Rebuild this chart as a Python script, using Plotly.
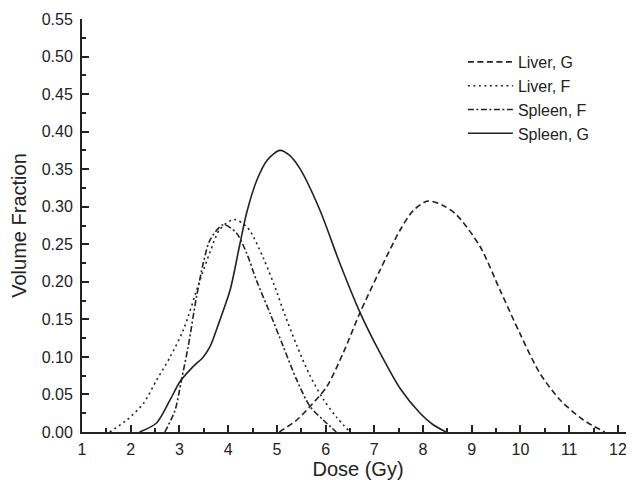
import plotly.graph_objects as go

# Data
liver_g_x = [5.05, 5.41, 5.68, 6.02, 6.36, 6.70, 7.12, 7.53, 7.80, 8.10, 8.40, 8.69, 9.17, 9.58, 9.99, 10.40, 10.81, 11.29, 11.73]
liver_g_y = [0.0, 0.016, 0.034, 0.060, 0.105, 0.158, 0.216, 0.269, 0.295, 0.3076, 0.302, 0.289, 0.247, 0.189, 0.131, 0.078, 0.043, 0.016, 0.0]

liver_f_x = [1.57, 1.92, 2.26, 2.53, 2.81, 3.08, 3.42, 3.63, 3.83, 4.12, 4.40, 4.72, 5.00, 5.13, 5.41, 5.68, 5.95, 6.22, 6.50]
liver_f_y = [0.0, 0.016, 0.038, 0.069, 0.100, 0.136, 0.202, 0.240, 0.270, 0.283, 0.272, 0.232, 0.186, 0.162, 0.115, 0.075, 0.044, 0.020, 0.0]

spleen_f_x = [2.70, 2.91, 3.04, 3.18, 3.35, 3.49, 3.63, 3.90, 4.17, 4.38, 4.58, 4.86, 5.13, 5.41, 5.68, 5.95, 6.22]
spleen_f_y = [0.0, 0.029, 0.069, 0.114, 0.180, 0.225, 0.256, 0.276, 0.265, 0.238, 0.202, 0.158, 0.114, 0.069, 0.034, 0.016, 0.0]

spleen_g_x = [2.18, 2.53, 2.81, 3.01, 3.28, 3.49, 3.63, 3.83, 4.04, 4.24, 4.38, 4.58, 4.80, 5.06, 5.25, 5.47, 5.88, 6.29, 6.70, 7.12, 7.53, 7.94, 8.20, 8.47]
spleen_g_y = [0.0, 0.012, 0.043, 0.067, 0.087, 0.100, 0.114, 0.149, 0.189, 0.250, 0.292, 0.334, 0.362, 0.375, 0.369, 0.351, 0.296, 0.225, 0.160, 0.105, 0.058, 0.025, 0.010, 0.0]

series = [
    ("Liver, G", liver_g_x, liver_g_y, "6px,3.5px"),
    ("Liver, F", liver_f_x, liver_f_y, "2px,3.5px"),
    ("Spleen, F", spleen_f_x, spleen_f_y, "6px,2.5px,2px,2.5px"),
    ("Spleen, G", spleen_g_x, spleen_g_y, "solid"),
]

x_ticks = list(range(1, 13))
y_ticks = [i * 0.05 for i in range(12)]

FONT = "Liberation Sans, Arial, sans-serif"
INK = "#222222"

fig = go.Figure()
for name, xs, ys, dash in series:
    fig.add_trace(go.Scatter(
        x=xs, y=ys, name=name, mode="lines",
        line=dict(color=INK, width=1.6, dash=dash, shape="spline", smoothing=0.8),
    ))

# the page body has an 8px margin, so the figure is 8px smaller than the window
fig.update_layout(
    width=626, height=472,
    margin=dict(l=74, r=0, t=11, b=48),
    paper_bgcolor="white", plot_bgcolor="white",
    font=dict(family=FONT, color=INK, size=16),
    showlegend=True,
    legend=dict(
        x=0.69, y=0.937, xanchor="left", yanchor="top",
        bgcolor="rgba(0,0,0,0)", font=dict(size=16, family=FONT),
        itemwidth=45, tracegroupgap=0,
    ),
    xaxis=dict(
        range=[1, 12.33], tickvals=x_ticks, ticktext=[str(v) for v in x_ticks],
        ticks="inside", ticklen=7, tickwidth=1.5, tickcolor=INK,
        minor=dict(dtick=0.5, tick0=1, ticks="inside", ticklen=4, tickwidth=1.5, tickcolor=INK),
        showline=True, linecolor=INK, linewidth=2, showgrid=False, zeroline=False,
        tickfont=dict(size=16), ticklabelstandoff=2, automargin=False,
        title=dict(text="Dose (Gy)", font=dict(size=20), standoff=6),
    ),
    yaxis=dict(
        range=[0, 0.55], tickvals=y_ticks, ticktext=["%.2f" % v for v in y_ticks],
        ticks="inside", ticklen=7, tickwidth=1.5, tickcolor=INK,
        minor=dict(dtick=0.025, tick0=0, ticks="inside", ticklen=4, tickwidth=1.5, tickcolor=INK),
        showline=True, linecolor=INK, linewidth=2, showgrid=False, zeroline=False,
        tickfont=dict(size=16), ticklabelstandoff=4, automargin=False,
        title=dict(text="Volume Fraction", font=dict(size=20), standoff=18),
    ),
    xaxis2=dict(
        overlaying="x", side="top", anchor="y", range=[1, 12.33], tickvals=x_ticks,
        showticklabels=False, ticks="inside", ticklen=7, tickwidth=1.5, tickcolor=INK,
        showline=True, linecolor=INK, linewidth=2, showgrid=False, zeroline=False, automargin=False,
    ),
    yaxis2=dict(
        overlaying="y", side="right", anchor="x", range=[0, 0.55], tickvals=y_ticks,
        showticklabels=False, ticks="inside", ticklen=7, tickwidth=1.5, tickcolor=INK,
        showline=True, linecolor=INK, linewidth=2, showgrid=False, zeroline=False, automargin=False,
    ),
)

fig.write_html("out.html")
